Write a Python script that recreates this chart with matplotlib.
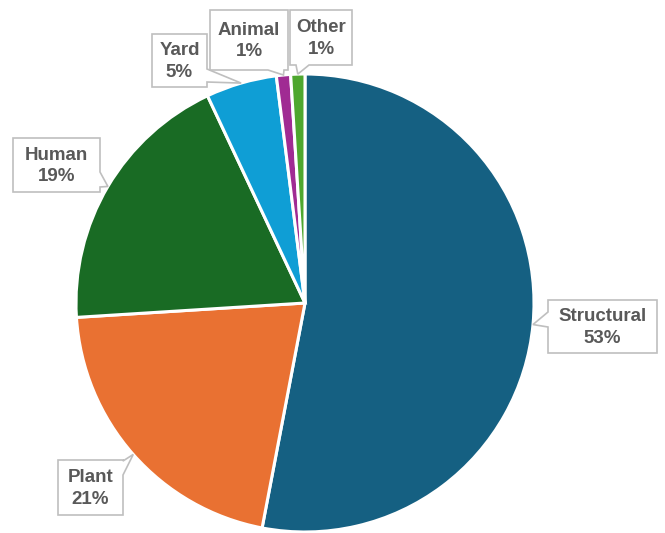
import numpy as np
import matplotlib.pyplot as plt
from matplotlib.patches import Polygon

# sources of the total, share in percent
categories = ['Structural', 'Plant', 'Human', 'Yard', 'Animal', 'Other']
shares = [53, 21, 19, 5, 1, 1]
colors = ['#156082', '#E97132', '#196B24', '#0F9ED5', '#A02B93', '#4EA72E']

# callout boxes in pixel coords: (x0, y0, x1, y1), side of pointer, pointer base
boxes = {
    'Structural': ((548, 300, 657, 353), 'left', (312, 327)),
    'Plant': ((58, 460, 123, 515), 'right', (461, 475)),
    'Human': ((13, 138, 100, 192), 'right', (172, 187)),
    'Yard': ((152, 34, 207, 87), 'right', (69, 82)),
    'Animal': ((210, 10, 288, 70), 'bottom', (268, 284)),
    'Other': ((290, 10, 352, 65), 'bottom', (296, 309)),
}

W, H = 665, 533
cx, cy, r = 305, 303, 229

fig = plt.figure(figsize=(W / 100, H / 100), dpi=100)
ax = fig.add_axes([0, 0, 1, 1])

# y runs down here, so counterclock=True draws clockwise on screen
wedges, _ = ax.pie(shares, colors=colors, startangle=-90, counterclock=True,
                   center=(cx, cy), radius=r, frame=True,
                   wedgeprops=dict(edgecolor='white', linewidth=2.2))
ax.set_xlim(0, W)
ax.set_ylim(H, 0)
ax.set_aspect('equal')
ax.axis('off')


def callout(box, side, base, tip):
    x0, y0, x1, y1 = box
    a, b = base
    if side == 'left':
        pts = [(x0, y0), (x1, y0), (x1, y1), (x0, y1), (x0, b), tip, (x0, a)]
    elif side == 'right':
        pts = [(x0, y0), (x1, y0), (x1, a), tip, (x1, b), (x1, y1), (x0, y1)]
    elif side == 'bottom':
        pts = [(x0, y0), (x1, y0), (x1, y1), (b, y1), tip, (a, y1), (x0, y1)]
    else:
        pts = [(x0, y0), (a, y0), tip, (b, y0), (x1, y0), (x1, y1), (x0, y1)]
    return Polygon(pts, closed=True, facecolor='white', edgecolor='#BFBFBF',
                   linewidth=1.2, zorder=5)


for w, name, val in zip(wedges, categories, shares):
    mid = np.deg2rad((w.theta1 + w.theta2) / 2)
    tip = (cx + r * np.cos(mid), cy + r * np.sin(mid))
    box, side, base = boxes[name]
    ax.add_patch(callout(box, side, base, tip))
    ax.text((box[0] + box[2]) / 2, (box[1] + box[3]) / 2 + 1, f'{name}\n{val}%',
            ha='center', va='center', fontsize=13.5, fontweight='bold',
            color='#595959', family='Liberation Sans', linespacing=1.38, zorder=6)

fig.savefig('out.png', dpi=100)
